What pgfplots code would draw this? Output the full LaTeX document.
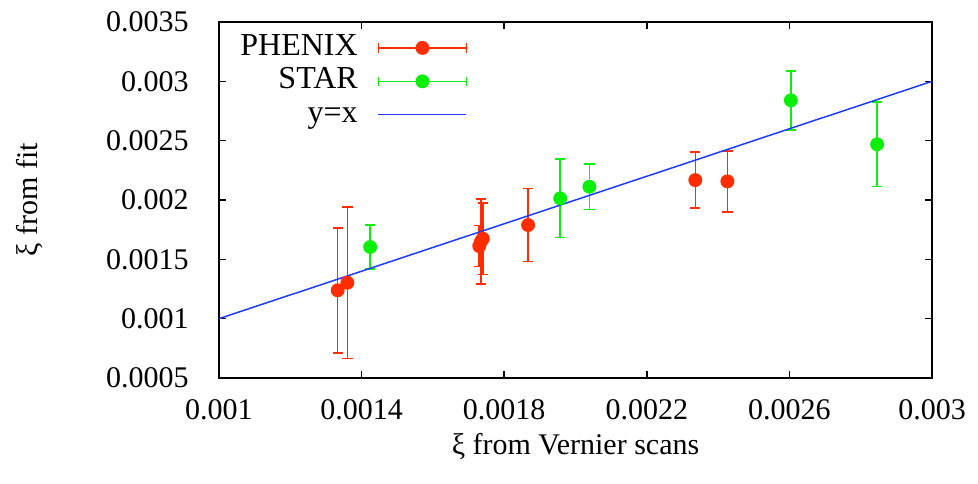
\documentclass[border=0pt]{standalone}
\usepackage{fontspec}
\setmainfont{Liberation Serif}
\usepackage{pgfplots}
\pgfplotsset{compat=1.18}
\definecolor{pred}{RGB}{255,45,0}
\definecolor{sgreen}{RGB}{10,240,10}
\definecolor{lblue}{RGB}{30,60,245}
\pgfplotstableread{
x y e
0.001333 0.001239 0.000527
0.001360 0.001303 0.000638
0.001730 0.001612 0.000174
0.001735 0.001652 0.000358
0.001740 0.001674 0.000300
0.001867 0.001789 0.000309
0.002336 0.002168 0.000235
0.002426 0.002157 0.000257
}\phenixdata
\pgfplotstableread{
x y e
0.001424 0.001604 0.000187
0.001957 0.002014 0.000331
0.002039 0.002112 0.000191
0.002604 0.002840 0.000248
0.002846 0.002469 0.000355
}\stardata
\pgfplotsset{
  errlegend/.style={legend image code/.code={
    \draw[##1,mark=none] (0pt,0pt) -- (44pt,0pt);
    \draw[##1,mark=none] (0pt,-2.3pt) -- (0pt,2.3pt);
    \draw[##1,mark=none] (44pt,-2.3pt) -- (44pt,2.3pt);
    \draw[##1,only marks] plot coordinates {(22pt,0pt)};
  }},
  linelegend/.style={legend image code/.code={
    \draw[##1] (0pt,0pt) -- (44pt,0pt);
  }},
}
\begin{document}
\fontsize{15}{17}\selectfont
\begin{tikzpicture}
\useasboundingbox (-109.5pt,-52.5pt) rectangle (379.5pt,189pt);
\begin{axis}[
  scale only axis, width=356.5pt, height=178pt,
  xmin=0.001, xmax=0.003, ymin=0.0005, ymax=0.0035,
  xtick={0.001,0.0014,0.0018,0.0022,0.0026,0.003},
  ytick={0.0005,0.001,0.0015,0.002,0.0025,0.003,0.0035},
  scaled ticks=false,
  /pgf/number format/fixed,
  /pgf/number format/precision=4,
  /pgf/number format/assume math mode=true,
  tick label style={font=\fontsize{15}{17}\selectfont},
  xticklabel style={yshift=-5.5pt},
  yticklabel style={xshift=-10pt},
  label style={font=\fontsize{15.5}{17}\selectfont},
  xlabel={ξ from Vernier scans},
  ylabel={ξ from fit},
  every axis x label/.style={at={(axis description cs:0.5,-0.192)}, anchor=center},
  every axis y label/.style={at={(axis description cs:-0.265,0.5)}, anchor=center, rotate=90},
  axis line style={line width=0.75pt},
  tick style={black, line width=0.75pt},
  major tick length=3.5pt,
  legend plot pos=right,
  legend cell align=right,
  legend style={draw=none, fill=none, at={(0,1)}, anchor=north east,
    xshift=124.3pt, yshift=-4.5pt, inner sep=0pt,
    font=\fontsize{16}{18}\selectfont,
    nodes={text height=11pt, text depth=3.5pt, inner sep=1pt},
    row sep=0.2pt, column sep=9pt},
]
\addplot+[pred, line width=0.75pt, only marks, mark=*, mark size=3.1pt,
  mark options={fill=pred, draw=pred}, errlegend,
  error bars/.cd, y dir=both, y explicit,
  error mark options={rotate=90, pred, mark size=2.6pt, line width=0.75pt},
  error bar style={pred, line width=0.75pt}]
  table[x=x, y=y, y error=e] {\phenixdata};
\addlegendentry{PHENIX}
\addplot+[sgreen, line width=0.75pt, only marks, mark=*, mark size=3.1pt,
  mark options={fill=sgreen, draw=sgreen}, errlegend,
  error bars/.cd, y dir=both, y explicit,
  error mark options={rotate=90, sgreen, mark size=2.6pt, line width=0.75pt},
  error bar style={sgreen, line width=0.75pt}]
  table[x=x, y=y, y error=e] {\stardata};
\addlegendentry{STAR}
\addplot[lblue, line width=0.75pt, mark=none, linelegend]
  coordinates {(0.001,0.001) (0.003,0.003)};
\addlegendentry{y=x}
\end{axis}
\end{tikzpicture}
\end{document}
